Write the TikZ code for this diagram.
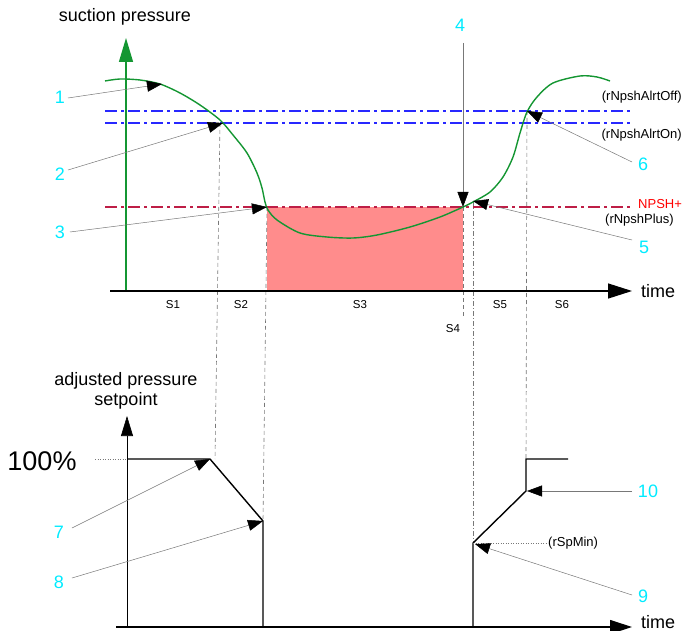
\documentclass[tikz,border=0pt]{standalone}
\usepackage{fontspec}
\setmainfont{Liberation Sans}
\usetikzlibrary{arrows.meta}
\definecolor{cgreen}{RGB}{20,150,50}
\definecolor{cblue}{RGB}{40,40,255}
\definecolor{cnpsh}{RGB}{190,30,70}
\definecolor{cred}{RGB}{255,140,140}
\definecolor{ccyan}{RGB}{0,235,255}
\definecolor{cgray}{RGB}{120,120,120}
\tikzset{
  num/.style={text=ccyan,font=\fontsize{18}{18}\selectfont,inner sep=0pt},
  lbl/.style={font=\fontsize{13}{13}\selectfont,inner sep=0pt},
  slbl/.style={font=\fontsize{11.5}{11.5}\selectfont,inner sep=0pt},
  big/.style={font=\fontsize{18}{20}\selectfont,inner sep=0pt,align=center},
  callout/.style={draw=cgray,line width=0.5pt,-{Triangle[length=15pt,width=11pt,fill=black,color=black]}},
  vguide/.style={draw=cgray,line width=0.6pt,dash pattern=on 4pt off 3pt},
  dashdot/.style={line width=1.4pt,dash pattern=on 12pt off 4pt on 3pt off 4pt},
  ramp/.style={draw=black,line width=1.4pt},
}
\begin{document}
\begin{tikzpicture}[x=1pt,y=-1pt]
\useasboundingbox (0,0) rectangle (685,631);
% red area
\fill[cred] (267,207) rectangle (463,291);
% threshold lines
\draw[dashdot,cblue] (105,111) -- (632,111);
\draw[dashdot,cblue] (105,123) -- (632,123);
\draw[dashdot,cnpsh] (105,207) -- (632,207);
% vertical guides
\coordinate (tip2) at (223,123);
\coordinate (tip3) at (267,207);
\coordinate (tip4) at (463,207);
\coordinate (tip5) at (473,201);
\coordinate (tip6) at (527,111);
\draw[vguide] (220,123) -- (215,459);
\draw[vguide] (267,207) -- (263,520);
\draw[vguide] (463,207) -- (463,318);
\draw[draw=cgray,line width=0.6pt,dash pattern=on 5pt off 2pt on 1pt off 2pt] (473,201) -- (473,543);
\draw[vguide] (527,111) -- (526,459);
% axes top
\node[big] (ylab) at (125,17) {suction pressure};
\coordinate (ybot) at (126,291);
\coordinate (ytop) at (126,38);
\draw[cgreen,line width=1.4pt,-{Triangle[length=24pt,width=14pt]}] (ybot) -- (ytop);
\coordinate (xl) at (110,291);
\coordinate (xr) at (632,291);
\draw[black,line width=1.4pt,-{Triangle[length=24pt,width=15pt]}] (xl) -- (xr);
\node[big,anchor=west] (tlab) at (641,291) {time};
% curve
\draw[cgreen,line width=1.4pt] plot[smooth,tension=0.5] coordinates {
 (105,81) (120,79) (140,80) (160,84) (180,93) (200,105) (220,120) (233,135)
 (247,153) (257,173) (262,188) (265,202) (268,210) (277,220) (300,233)
 (327,237) (353,238) (377,235) (410,227) (440,217) (463,207) (473,202)
 (490,192) (503,177) (513,157) (520,133) (527,112) (537,97) (553,83)
 (580,76) (597,77) (610,81)};
% texts right
\node[lbl,anchor=east] (aoff) at (682,97) {(rNpshAlrtOff)};
\node[lbl,anchor=east] (aon) at (682,135) {(rNpshAlrtOn)};
\node[lbl,anchor=west,text=red] (npsh) at (638,204) {NPSH+};
\node[lbl,anchor=east] (nplus) at (674,220) {(rNpshPlus)};
% S labels
\node[slbl] (s1) at (173,305) {S1};
\node[slbl] (s2) at (241,305) {S2};
\node[slbl] (s3) at (360,305) {S3};
\node[slbl] (s4) at (453,329) {S4};
\node[slbl] (s5) at (500,305) {S5};
\node[slbl] (s6) at (562,305) {S6};
% callouts top
\coordinate (tip1) at (162,84);
\node[num] (n1) at (60,97) {1};
\node[num] (n2) at (60,174) {2};
\node[num] (n3) at (60,232) {3};
\node[num] (n4) at (460,25) {4};
\node[num] (n5) at (644,247) {5};
\node[num] (n6) at (643,164) {6};
\draw[callout] (68,98) -- (tip1);
\draw[callout] (68,170) -- (tip2);
\draw[callout] (70,232) -- (tip3);
\draw[callout] (463,43) -- (tip4);
\draw[callout] (632,240) -- (tip5);
\draw[callout] (632,162) -- (tip6);
% bottom plot
\node[big] (alab) at (126,391) {adjusted pressure\\setpoint};
\coordinate (b0) at (127,627);
\coordinate (bt) at (127,416);
\draw[black,line width=0.6pt,-{Triangle[length=20pt,width=12pt]}] (b0) -- (bt);
\coordinate (bl) at (116,627);
\coordinate (br) at (632,627);
\draw[black,line width=1.2pt,-{Triangle[length=22pt,width=14pt]}] (bl) -- (br);
\node[big,anchor=west] (tlab2) at (641,622) {time};
\node[inner sep=0pt,font=\fontsize{27}{27}\selectfont] (hp) at (42,461) {100\%};
\draw[cgray,line width=0.5pt,dotted] (95,459) -- (127,459);
\coordinate (p7) at (210,459);
\coordinate (p8) at (263,521);
\coordinate (p9) at (473,543);
\coordinate (p10) at (526,491);
\draw[ramp] (127,459) -- (p7) -- (p8) -- (263,627);
\draw[ramp] (473,627) -- (p9) -- (p10) -- (526,459) -- (568,459);
\node[lbl,anchor=west] (spmin) at (548,543) {(rSpMin)};
\draw[cgray,line width=0.5pt,dotted] (p9) -- (spmin.west);
\node[num] (n7) at (59,532) {7};
\node[num] (n8) at (59,582) {8};
\node[num] (n9) at (643,596) {9};
\node[num] (n10) at (648,491) {10};
\draw[callout] (72,528) -- (p7);
\draw[callout] (72,578) -- (p8);
\draw[callout] (632,595) -- (475,544);
\draw[callout] (632,491) -- (527,491);
\end{tikzpicture}
\end{document}
